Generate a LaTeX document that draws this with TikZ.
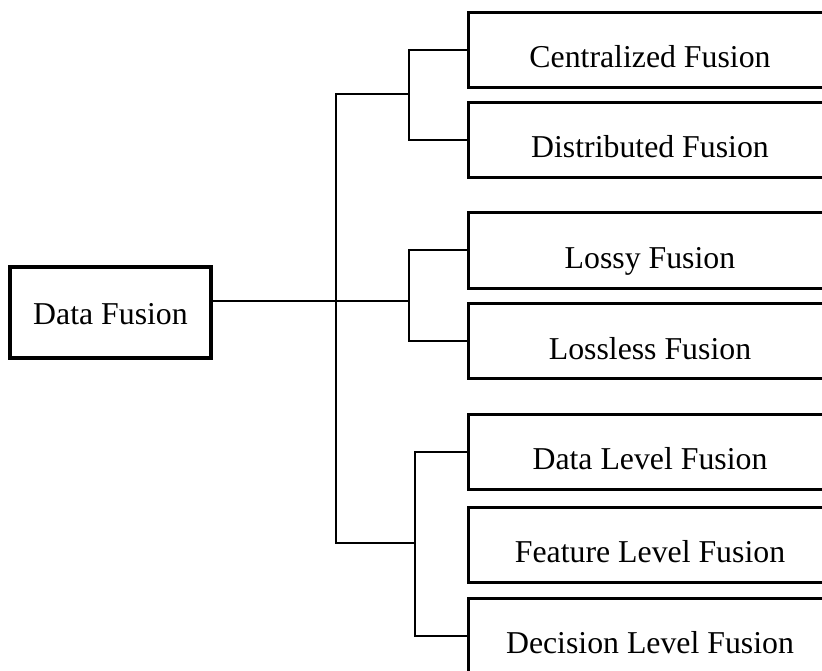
\documentclass[tikz,border=0pt]{standalone}
\usepackage{fontspec}
\setmainfont{Liberation Serif}
\begin{document}
\begin{tikzpicture}[x=1pt,y=-1pt,
  every node/.style={font=\fontsize{31.8}{38}\selectfont},
  leaf/.style={draw, line width=3pt, rectangle, minimum width=364pt,
     inner xsep=0pt, inner ysep=0pt, outer sep=0pt,
     text height=55.5pt, text depth=19.5pt},
  rootbox/.style={draw, line width=3.3pt, rectangle, minimum width=201pt,
     inner xsep=0pt, inner ysep=0pt, outer sep=0pt,
     text height=57pt, text depth=34pt},
  conn/.style={line width=2pt, line cap=rect}]
\clip (0,0) rectangle (822,671);
\fill[white] (0,0) rectangle (822,671);
% root
\node[rootbox] (df) at (110.5,312.5) {Data Fusion};
% leaves (centre y = midpoint of border lines)
\node[leaf] (c1) at (650,50)    {Centralized Fusion};
\node[leaf] (c2) at (650,140)   {Distributed Fusion};
\node[leaf] (l1) at (650,250.5) {Lossy Fusion};
\node[leaf] (l2) at (650,341)   {Lossless Fusion};
\node[leaf] (d1) at (650,451.5) {Data Level Fusion};
\node[leaf] (d2) at (650,544.5) {Feature Level Fusion};
\node[leaf] (d3) at (650,635.5) {Decision Level Fusion};
% junctions
\coordinate (b1) at (409,94);
\coordinate (b2) at (409,301);
\coordinate (b3) at (415,543);
\coordinate (tt) at (336,94);
\coordinate (tb) at (336,543);
% connectors
\draw[conn] (c1.west) -| (b1) |- (c2.west);
\draw[conn] (l1.west) -| (b2) |- (l2.west);
\draw[conn] (d1.west) -| (b3) |- (d3.west);
\draw[conn] (b1) -- (tt) -- (tb) -- (b3);
\draw[conn] (df.east |- b2) -- (b2);
\end{tikzpicture}
\end{document}
